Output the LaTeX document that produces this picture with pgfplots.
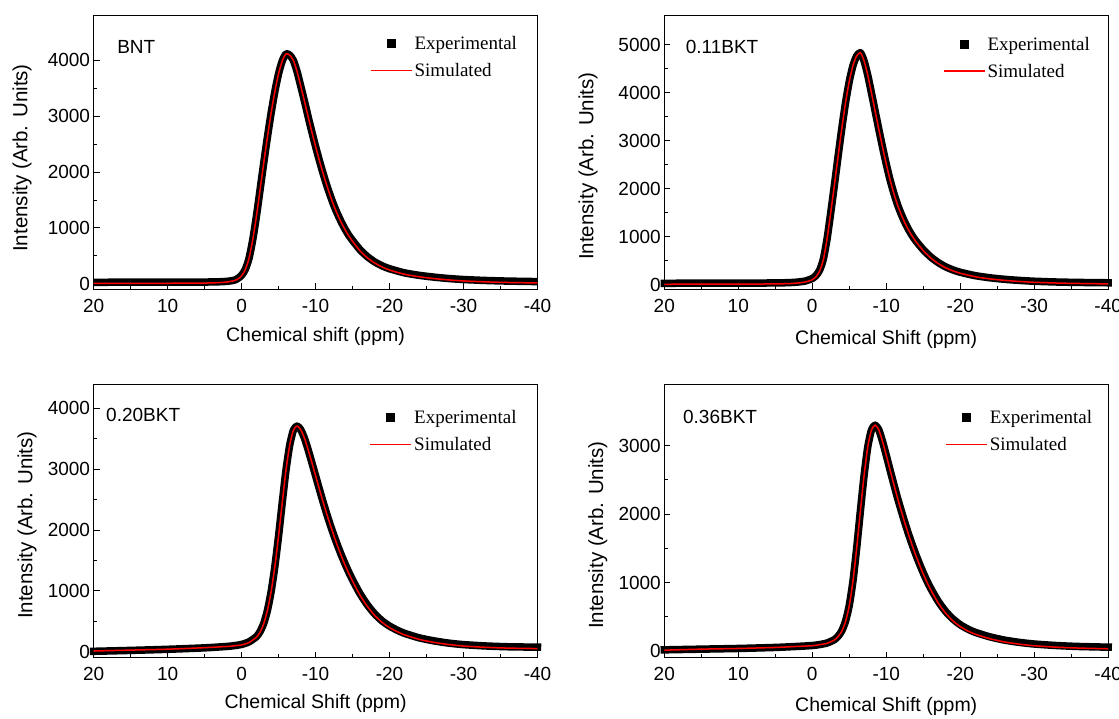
\documentclass[border=0pt]{standalone}
\usepackage{fontspec}
\setmainfont{Liberation Sans}
\newfontfamily\legfont{Liberation Serif}
\usepackage{pgfplots}
\pgfplotsset{compat=1.18}

\pgfplotsset{
  nmrpanel/.style={
    scale only axis, width=443.9pt, height=273.6pt, anchor=south west,
    x dir=reverse, xmin=-40, xmax=20, xtick={-40,-30,...,20}, minor x tick num=1,
    minor y tick num=1,
    xtick pos=lower, ytick pos=left, tick align=inside,
    major tick length=6pt, minor tick length=3.5pt,
    every tick/.style={black, line width=0.8pt},
    axis line style={line width=1pt},
    tick label style={font=\fontsize{19}{22}\selectfont},
    xticklabel style={yshift=-6pt},
    /pgf/number format/assume math mode=true,
    /pgf/number format/1000 sep={},
    xlabel style={font=\fontsize{19.5}{22}\selectfont},
    ylabel style={font=\fontsize{20.5}{24}\selectfont},
    ylabel={Intensity (Arb. Units)},
    legend style={draw=none, fill=none, font=\legfont\fontsize{19}{22}\selectfont, anchor=north west, row sep=8pt},
    legend cell align=left,
  },
  expst/.style={black, line width=7.5pt, line join=round, line cap=rect, smooth, tension=0.4,
    legend image code/.code={\path[fill=black, draw=none] (16pt,-4.5pt) rectangle (25pt,4.5pt);}},
  simst/.style={red, line width=1.5pt, smooth, tension=0.4,
    legend image code/.code={\draw[draw=red, line width=1.4pt] (0pt,0pt) -- (41pt,0pt);}},
}
\tikzset{lbl/.style={anchor=west, inner sep=0pt, font=\fontsize{19}{22}\selectfont}}

\begin{document}
\begin{tikzpicture}
\path[use as bounding box] (0,0) rectangle (1119pt,718pt);

% ---------------- Panel 1: BNT ----------------
\begin{axis}[nmrpanel, at={(93.6pt,428.7pt)}, ymin=-100, ymax=4800,
  ytick={0,1000,2000,3000,4000},
  xlabel={Chemical shift (ppm)},
  xlabel style={at={(axis description cs:0.5,-0.174)}, anchor=center},
  ylabel style={at={(axis description cs:-0.161,0.48)}, anchor=center},
  legend style={at={(axis description cs:0.616,0.940)}}]
\addplot[expst] coordinates {
(20,25) (15,28) (10,30) (5,30) (3,35) (2,42) (1,62) (0.5,95) (0,150) (-0.5,255)
(-1,450) (-1.5,780) (-2,1200) (-2.5,1680) (-3,2165) (-3.5,2630) (-4,3060) (-4.5,3440)
(-5,3760) (-5.5,3990) (-6,4115) (-6.5,4095) (-7,4000) (-7.5,3800) (-8,3540) (-8.5,3270)
(-9,2990) (-9.5,2720) (-10,2460) (-10.5,2215) (-11,1985) (-11.5,1770) (-12,1575) (-12.5,1395)
(-13,1240) (-13.5,1100) (-14,975) (-14.5,865) (-15,775) (-16,610) (-17,485) (-18,390)
(-19,320) (-20,268) (-22,195) (-24,150) (-26,118) (-28,93) (-30,75) (-33,58) (-36,47) (-40,38)};
\addlegendentry{Experimental}
\addplot[simst] coordinates {
(20,5) (15,6) (10,8) (5,12) (3,20) (2,30) (1,55) (0.5,85) (0,140) (-0.5,250)
(-1,450) (-1.5,780) (-2,1200) (-2.5,1680) (-3,2165) (-3.5,2630) (-4,3060) (-4.5,3440)
(-5,3760) (-5.5,3990) (-6,4115) (-6.5,4095) (-7,4000) (-7.5,3800) (-8,3540) (-8.5,3270)
(-9,2990) (-9.5,2720) (-10,2460) (-10.5,2215) (-11,1985) (-11.5,1770) (-12,1570) (-12.5,1390)
(-13,1230) (-13.5,1090) (-14,965) (-14.5,855) (-15,760) (-16,590) (-17,465) (-18,370)
(-19,300) (-20,245) (-22,170) (-24,125) (-26,92) (-28,68) (-30,50) (-33,33) (-36,22) (-40,14)};
\addlegendentry{Simulated}
\node[lbl] at (axis description cs:0.053,0.887) {BNT};
\end{axis}

% ---------------- Panel 2: 0.11BKT ----------------
\begin{axis}[nmrpanel, at={(664.3pt,428.7pt)}, ymin=-100, ymax=5600, clip=false,
  ytick={0,1000,2000,3000,4000,5000},
  xlabel={Chemical Shift (ppm)},
  xlabel style={at={(axis description cs:0.5,-0.185)}, anchor=center},
  ylabel style={at={(axis description cs:-0.172,0.45)}, anchor=center},
  legend style={at={(axis description cs:0.621,0.937)}}]
\addplot[expst] coordinates {
(20,25) (15,28) (10,30) (5,32) (3,40) (2,50) (1,70) (0.5,95) (0,125) (-0.5,185)
(-1,300) (-1.5,530) (-2,950) (-2.5,1500) (-3,2080) (-3.5,2680) (-4,3260) (-4.5,3790)
(-5,4230) (-5.5,4560) (-6,4760) (-6.5,4830) (-7,4660) (-7.5,4360) (-8,3990) (-8.5,3610)
(-9,3230) (-9.5,2860) (-10,2510) (-10.5,2190) (-11,1915) (-11.5,1675) (-12,1475) (-12.5,1300)
(-13,1150) (-13.5,1020) (-14,910) (-15,725) (-16,575) (-17,460) (-18,370) (-19,305)
(-20,255) (-22,185) (-24,140) (-26,108) (-28,85) (-30,68) (-33,52) (-36,43) (-40,36)};
\addlegendentry{Experimental}
\addplot[simst] coordinates {
(20,5) (15,6) (10,8) (5,12) (3,20) (2,30) (1,50) (0.5,70) (0,100) (-0.5,160)
(-1,280) (-1.5,520) (-2,950) (-2.5,1500) (-3,2080) (-3.5,2680) (-4,3260) (-4.5,3790)
(-5,4230) (-5.5,4560) (-6,4760) (-6.5,4830) (-7,4660) (-7.5,4360) (-8,3990) (-8.5,3610)
(-9,3230) (-9.5,2860) (-10,2510) (-10.5,2190) (-11,1910) (-11.5,1670) (-12,1465) (-12.5,1290)
(-13,1140) (-13.5,1010) (-14,895) (-15,705) (-16,555) (-17,440) (-18,350) (-19,285)
(-20,235) (-22,162) (-24,117) (-26,86) (-28,63) (-30,46) (-33,31) (-36,21) (-40,13)};
\addlegendentry{Simulated}
\node[lbl] at (axis description cs:0.048,0.887) {0.11BKT};
\end{axis}

% ---------------- Panel 3: 0.20BKT ----------------
\begin{axis}[nmrpanel, at={(93.6pt,60.3pt)}, ymin=-100, ymax=4400, clip=false,
  ytick={0,1000,2000,3000,4000},
  xlabel={Chemical Shift (ppm)},
  xlabel style={at={(axis description cs:0.5,-0.166)}, anchor=center},
  ylabel style={at={(axis description cs:-0.150,0.485)}, anchor=center},
  legend style={at={(axis description cs:0.615,0.920)}}]
\addplot[expst] coordinates {
(20,5) (15,20) (10,38) (5,62) (2,85) (1,98) (0,118) (-1,160) (-2,245) (-2.5,330)
(-3,465) (-3.5,680) (-4,990) (-4.5,1400) (-5,1900) (-5.5,2450) (-6,2980) (-6.5,3390)
(-7,3640) (-7.5,3710) (-8,3650) (-8.5,3510) (-9,3320) (-9.5,3110) (-10,2895) (-10.5,2680)
(-11,2470) (-11.5,2270) (-12,2080) (-12.5,1905) (-13,1740) (-13.5,1585) (-14,1440) (-14.5,1305)
(-15,1180) (-16,955) (-17,770) (-18,620) (-19,505) (-20,420) (-21,355) (-22,302)
(-24,227) (-26,177) (-28,140) (-30,115) (-33,93) (-36,80) (-40,73)};
\addlegendentry{Experimental}
\addplot[simst] coordinates {
(20,10) (15,25) (10,40) (5,65) (2,85) (1,95) (0,110) (-1,150) (-2,235) (-2.5,320)
(-3,460) (-3.5,680) (-4,990) (-4.5,1400) (-5,1900) (-5.5,2450) (-6,2980) (-6.5,3390)
(-7,3640) (-7.5,3710) (-8,3650) (-8.5,3510) (-9,3320) (-9.5,3110) (-10,2895) (-10.5,2680)
(-11,2470) (-11.5,2270) (-12,2080) (-12.5,1900) (-13,1730) (-13.5,1570) (-14,1420) (-14.5,1285)
(-15,1160) (-16,930) (-17,745) (-18,595) (-19,480) (-20,395) (-21,330) (-22,277)
(-24,202) (-26,152) (-28,117) (-30,92) (-33,71) (-36,58) (-40,50)};
\addlegendentry{Simulated}
\node[lbl] at (axis description cs:0.028,0.887) {0.20BKT};
\end{axis}

% ---------------- Panel 4: 0.36BKT ----------------
\begin{axis}[nmrpanel, at={(664.3pt,60.3pt)}, ymin=-100, ymax=3900, clip=false,
  ytick={0,1000,2000,3000},
  xlabel={Chemical Shift (ppm)},
  xlabel style={at={(axis description cs:0.5,-0.180)}, anchor=center},
  ylabel style={at={(axis description cs:-0.150,0.448)}, anchor=center},
  legend style={at={(axis description cs:0.626,0.920)}}]
\addplot[expst] coordinates {
(20,15) (15,25) (10,35) (5,50) (2,65) (0,78) (-1,92) (-2,115) (-3,165) (-3.5,215)
(-4,295) (-4.5,435) (-5,665) (-5.5,1020) (-6,1500) (-6.5,2040) (-7,2560) (-7.5,2980)
(-8,3230) (-8.5,3300) (-9,3230) (-9.5,3060) (-10,2860) (-10.5,2650) (-11,2445) (-11.5,2245)
(-12,2060) (-12.5,1880) (-13,1712) (-13.5,1555) (-14,1408) (-14.5,1270) (-15,1142) (-15.5,1022)
(-16,915) (-17,728) (-18,580) (-19,467) (-20,382) (-21,320) (-22,272) (-24,205)
(-26,157) (-28,124) (-30,100) (-33,78) (-36,64) (-40,54)};
\addlegendentry{Experimental}
\addplot[simst] coordinates {
(20,10) (15,25) (10,35) (5,50) (2,65) (0,75) (-1,90) (-2,110) (-3,160) (-3.5,210)
(-4,290) (-4.5,430) (-5,660) (-5.5,1020) (-6,1500) (-6.5,2040) (-7,2560) (-7.5,2980)
(-8,3230) (-8.5,3300) (-9,3230) (-9.5,3060) (-10,2860) (-10.5,2650) (-11,2445) (-11.5,2245)
(-12,2055) (-12.5,1875) (-13,1705) (-13.5,1545) (-14,1395) (-14.5,1255) (-15,1125) (-15.5,1005)
(-16,895) (-17,705) (-18,555) (-19,440) (-20,355) (-21,292) (-22,245) (-24,178)
(-26,130) (-28,98) (-30,75) (-33,54) (-36,41) (-40,30)};
\addlegendentry{Simulated}
\node[lbl] at (axis description cs:0.042,0.880) {0.36BKT};
\end{axis}
\end{tikzpicture}
\end{document}
